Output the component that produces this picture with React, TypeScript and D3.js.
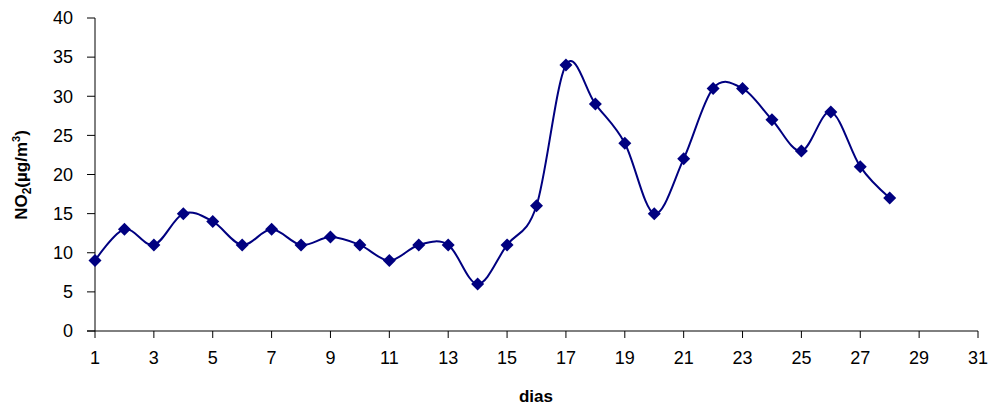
import React from "react";
import * as d3 from "d3";

const days = [1,2,3,4,5,6,7,8,9,10,11,12,13,14,15,16,17,18,19,20,21,22,23,24,25,26,27,28];
const no2 = [9,13,11,15,14,11,13,11,12,11,9,11,11,6,11,16,34,29,24,15,22,31,31,27,23,28,21,17];
const xTicks = [1,3,5,7,9,11,13,15,17,19,21,23,25,27,29,31];
const yTicks = [0,5,10,15,20,25,30,35,40];

export default function App() {
  const W = 995, H = 410;
  const x = d3.scaleLinear().domain([1, 31]).range([95, 978]);
  const y = d3.scaleLinear().domain([0, 40]).range([331, 18]);
  const line = d3.line<number>()
    .x((_, i) => x(days[i]))
    .y((d) => y(d))
    .curve(d3.curveCatmullRom.alpha(0));
  const color = "#000080";
  const font = "Arial, 'Liberation Sans', sans-serif";
  return (
    <svg width={W} height={H} style={{ position: "absolute", left: 0, top: 0, background: "#fff" }}>
      <g fontFamily={font}>
        <line x1={x(1)} x2={x(1)} y1={y(40)} y2={y(0)} stroke="#000" strokeWidth={1} />
        {yTicks.map((t) => (
          <g key={"y" + t}>
            <line x1={x(1) - 8} x2={x(1)} y1={y(t)} y2={y(t)} stroke="#000" />
            <text x={73} y={y(t)} dy="0.35em" textAnchor="end" fontSize={18} fill="#000">{t}</text>
          </g>
        ))}
        <line x1={x(1) - 8} x2={x(31)} y1={y(0)} y2={y(0)} stroke="#000" />
        {xTicks.map((t) => (
          <g key={"x" + t}>
            <line x1={x(t)} x2={x(t)} y1={y(0)} y2={y(0) + 7} stroke="#000" />
            <text x={x(t)} y={364} textAnchor="middle" fontSize={18} fill="#000">{t}</text>
          </g>
        ))}
        <text x={536} y={402} textAnchor="middle" fontSize={17} fontWeight="bold" fill="#000">dias</text>
        <text transform={`translate(27,175) rotate(-90)`} textAnchor="middle" fontSize={17} fontWeight="bold" fill="#000">
          NO<tspan dy="4" fontSize={12}>2</tspan><tspan dy="-4">(µg/m</tspan><tspan dy="-7" fontSize={11}>3</tspan><tspan dy="7">)</tspan>
        </text>
        <path d={line(no2) || ""} fill="none" stroke={color} strokeWidth={2} />
        {no2.map((v, i) => {
          const cx = x(days[i]), cy = y(v), r = 6.5;
          return (
            <path key={"m" + i} d={`M${cx},${cy - r}L${cx + r},${cy}L${cx},${cy + r}L${cx - r},${cy}Z`} fill={color} />
          );
        })}
      </g>
    </svg>
  );
}
